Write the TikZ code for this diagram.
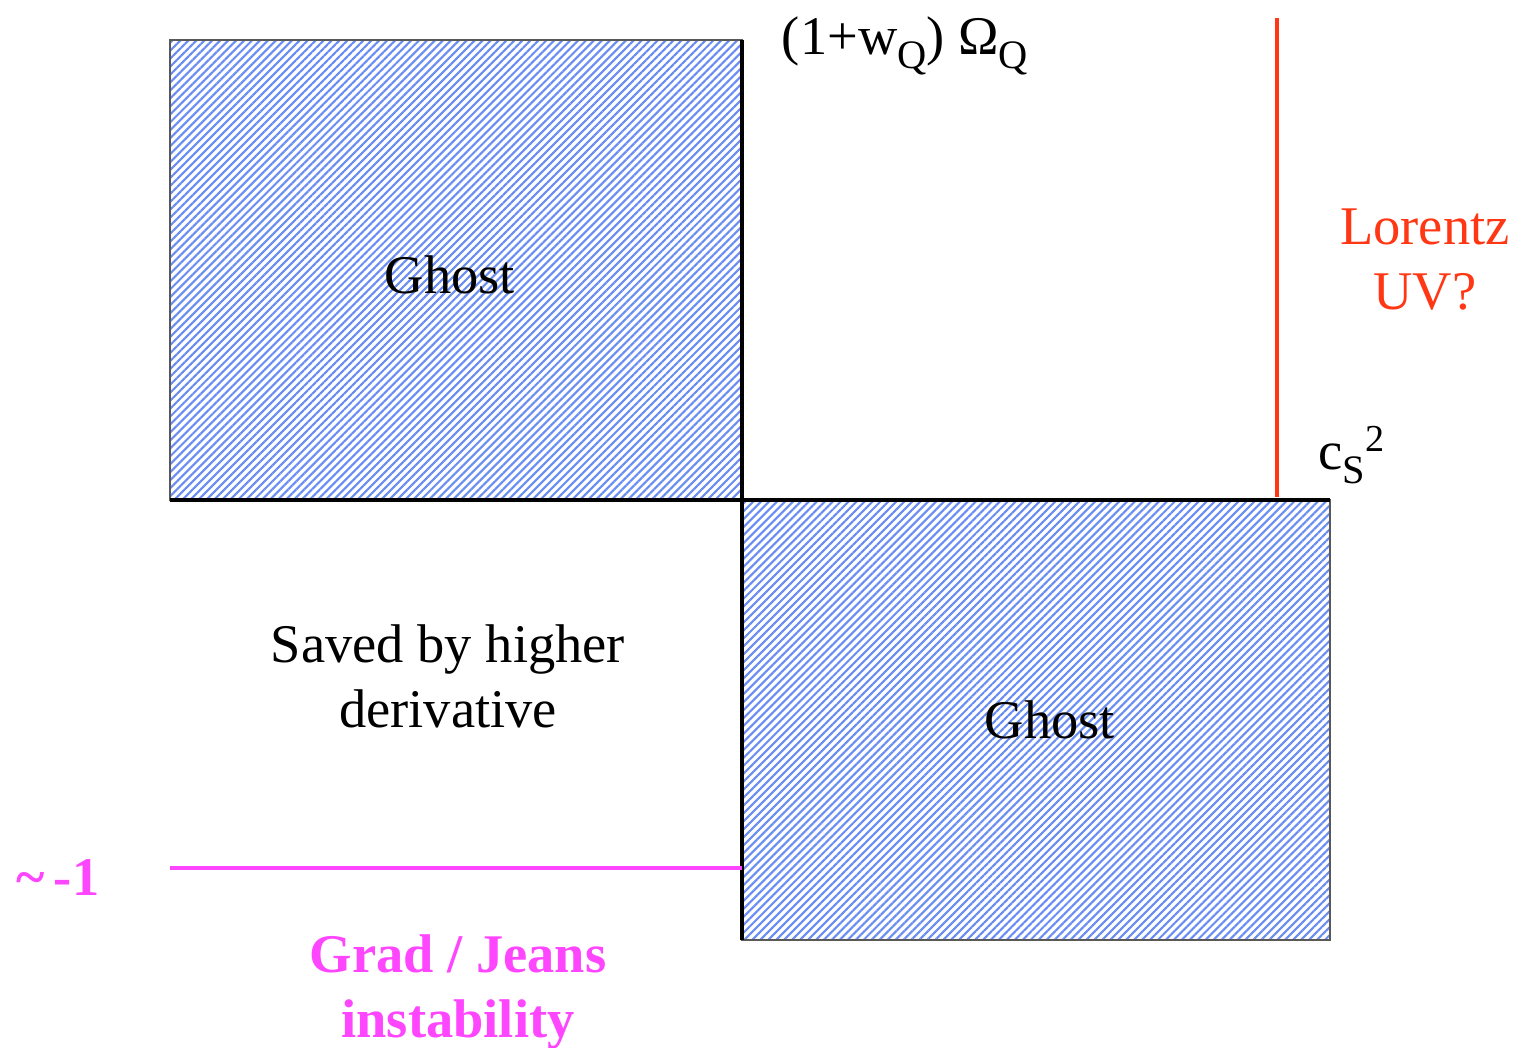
\documentclass[tikz,border=0pt]{standalone}
\usepackage{fontspec}
\setmainfont{Liberation Serif}
\usetikzlibrary{patterns.meta}
\definecolor{hatchblue}{RGB}{105,140,240}
\definecolor{lorentzred}{RGB}{255,55,20}
\definecolor{jeanspink}{RGB}{255,70,255}
\newcommand{\lowsub}[1]{\raisebox{-0.55ex}{\fontsize{11.5}{11.5}\selectfont #1}}
\begin{document}
\begin{tikzpicture}[x=1cm,y=1cm,
  ghostbox/.style={draw=black!65,line width=0.6pt,
    pattern={Lines[angle=45,distance=1.6pt,line width=0.6pt]},pattern color=hatchblue},
  axisline/.style={line width=1.2pt},
  lbl/.style={font=\fontsize{15.5}{18.5}\selectfont,align=center,inner sep=0pt}]
  \useasboundingbox (0,0) rectangle (15.21,10.48);
  % the two ghost regions
  \draw[ghostbox] (1.70,5.48) rectangle (7.42,10.08);
  \draw[ghostbox] (7.42,1.08) rectangle (13.30,5.48);
  % axes and bounds
  \coordinate (xl) at (1.70,5.48);
  \coordinate (xr) at (13.30,5.48);
  \coordinate (yt) at (7.42,10.08);
  \coordinate (yb) at (7.42,1.08);
  \draw[axisline] (xl) -- (xr);
  \draw[axisline] (yt) -- (yb);
  \coordinate (uvtop) at (12.77,10.30);
  \coordinate (uvbot) at (12.77,5.51);
  \draw[axisline,lorentzred] (uvtop) -- (uvbot);
  \coordinate (jl) at (1.70,1.80);
  \coordinate (jr) at (7.42,1.80);
  \draw[axisline,jeanspink] (jl) -- (jr);
  % labels
  \node[lbl] (ghostup) at (4.50,7.73) {Ghost};
  \node[lbl] (ghostdown) at (10.50,3.28) {Ghost};
  \node[lbl] (saved) at (4.48,3.72) {Saved by higher\\derivative};
  \node[lbl,anchor=base] (omega) at (9.05,9.93) {(1+w\lowsub{Q}) Ω\lowsub{Q}};
  \node[lbl,lorentzred] (lorentz) at (14.25,7.88) {Lorentz\\UV?};
  \node[lbl,anchor=base west] (cs) at (13.18,5.78) {c\lowsub{S}\textsuperscript{2}};
  \node[lbl,jeanspink,font=\fontsize{15.5}{18.5}\selectfont\bfseries] (minusone) at (0.58,1.70) {\textasciitilde\,-1};
  \node[lbl,jeanspink,font=\fontsize{15.5}{18.5}\selectfont\bfseries] (jeans) at (4.58,0.56) {Grad / Jeans\\instability};
\end{tikzpicture}
\end{document}
